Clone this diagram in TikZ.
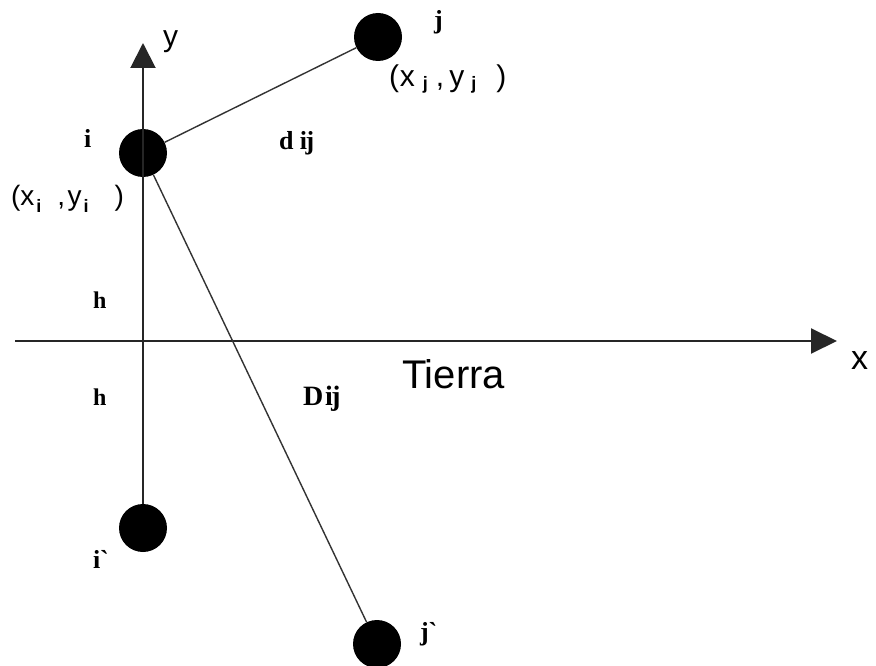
\documentclass[tikz,border=0pt]{standalone}
\usepackage{fontspec}
\setmainfont{Liberation Serif}
\newfontfamily\arialfont{Liberation Sans}
\usetikzlibrary{arrows.meta}
\newcommand{\myfs}[1]{\fontsize{#1}{#1}\selectfont}
\newcommand{\subl}[2]{\raisebox{#1}{\arialfont\bfseries\myfs{18}#2}}
\begin{document}
\begin{tikzpicture}[x=1pt,y=-1pt,
  dot/.style={circle,fill=black,draw=none,minimum size=48pt,inner sep=0pt},
  axis/.style={line width=2pt,draw=black!85},
  link/.style={line width=1.4pt,draw=black!80},
  lbl/.style={anchor=base west,inner sep=0pt,outer sep=0pt},
  serlbl/.style={lbl,font=\bfseries\myfs{26}},
  sanlbl/.style={lbl,font=\arialfont}]
\useasboundingbox (0,0) rectangle (876,666);
\fill[white] (0,0) rectangle (876,666);
% dots
\node[dot] (i)  at (143,153) {};
\node[dot] (j)  at (378,37)  {};
\node[dot] (ip) at (143,528) {};
\node[dot] (jp) at (377,644) {};
% axes
\coordinate (ytip) at (143,43);
\coordinate (xleft) at (15,341);
\coordinate (xtip) at (837,341);
\draw[axis,-{Triangle[length=25pt,width=25pt]}] (ip) -- (ytip);
\draw[axis,-{Triangle[length=26pt,width=25pt]}] (xleft) -- (xtip);
% links
\draw[link] (i) -- (j);
\draw[link] (i) -- (jp);
% axis labels
\node[sanlbl,font=\arialfont\myfs{30}] (ylab) at (163,47) {y};
\node[sanlbl,font=\arialfont\myfs{34}] (xlab) at (851,369) {x};
\node[sanlbl,font=\arialfont\myfs{40}] (tierra) at (402,388) {Tierra};
% point labels
\node[serlbl] (ilab) at (84,148) {i};
\node[serlbl] (jlab) at (434,29) {j};
\node[serlbl] (iplab) at (93,568) {i\textasciigrave};
\node[serlbl] (jplab) at (420,640) {j\textasciigrave};
\node[serlbl] (dlab) at (279,150) {d ĳ};
\node[serlbl,font=\bfseries\myfs{28}] (Dlab) at (303,405) {D\kern2ptĳ};
\node[serlbl,font=\bfseries\myfs{24}] (h1) at (93,308) {h};
\node[serlbl,font=\bfseries\myfs{24}] (h2) at (93,405) {h};
% coordinates
\node[lbl,font=\arialfont\myfs{28}] (ci) at (11,205) {(x\kern2pt\subl{-7pt}{i}\hspace{16pt},\hspace{2.5pt}y\kern2pt\subl{-7pt}{i}\hspace{26pt})};
\node[lbl,font=\arialfont\myfs{30}] (cj) at (389,87) {(\kern1ptx\hspace{8pt}\subl{-3pt}{j}\hspace{8pt},\hspace{5pt}y\hspace{7pt}\subl{-3pt}{j}\hspace{20pt})};
\end{tikzpicture}
\end{document}
